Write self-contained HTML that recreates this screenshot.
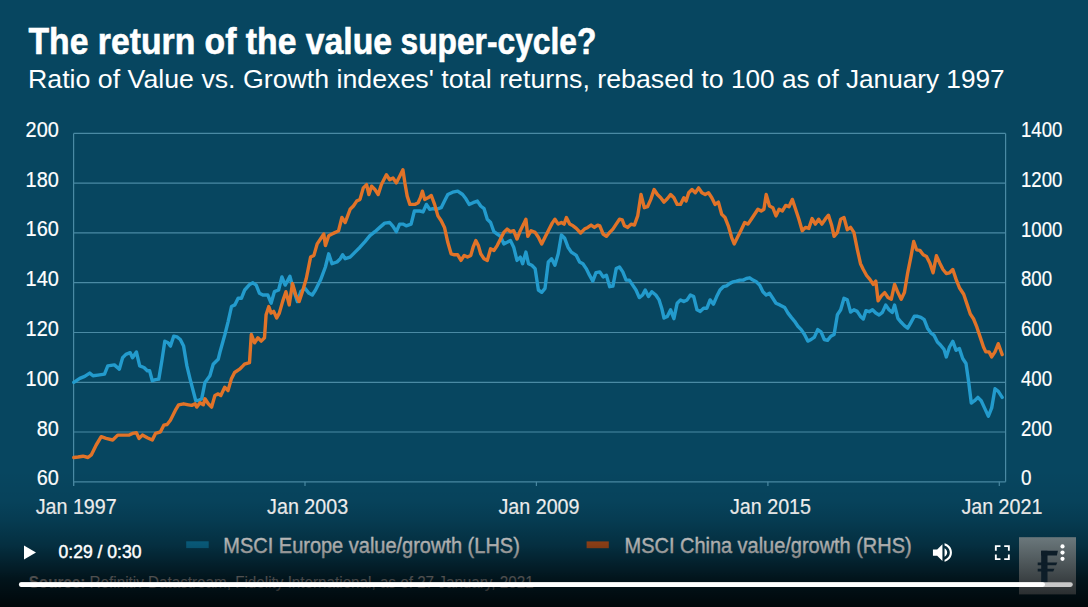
<!DOCTYPE html>
<html><head><meta charset="utf-8"><title>The return of the value super-cycle?</title>
<style>
html,body{margin:0;padding:0;width:1088px;height:607px;overflow:hidden;background:#074660;}
svg{position:absolute;left:0;top:0;display:block;}
text{font-family:"Liberation Sans",sans-serif;}
</style></head><body>
<svg width="1088" height="607" viewBox="0 0 1088 607">
<defs>
<linearGradient id="shade" gradientUnits="userSpaceOnUse" x1="0" y1="470" x2="0" y2="607">
<stop offset="0" stop-color="#000" stop-opacity="0"/>
<stop offset="0.22" stop-color="#000" stop-opacity="0.05"/>
<stop offset="0.365" stop-color="#000" stop-opacity="0.15"/>
<stop offset="0.547" stop-color="#000" stop-opacity="0.33"/>
<stop offset="0.657" stop-color="#000" stop-opacity="0.5"/>
<stop offset="0.8" stop-color="#000" stop-opacity="0.72"/>
<stop offset="1" stop-color="#000" stop-opacity="0.9"/>
</linearGradient>
<linearGradient id="logo" x1="0" y1="0" x2="0" y2="1">
<stop offset="0" stop-color="#6b787c"/>
<stop offset="1" stop-color="#2a2e30"/>
</linearGradient>
</defs>
<rect width="1088" height="607" fill="#074660"/>
<g fill="#fff">
<text x="28.5" y="54" font-size="37" font-weight="bold" stroke="#fff" stroke-width="0.6" textLength="363.5" lengthAdjust="spacingAndGlyphs">The return of the value</text>
<text x="400.5" y="54" font-size="37" font-weight="bold" stroke="#fff" stroke-width="0.6" textLength="195.8" lengthAdjust="spacingAndGlyphs">super-cycle?</text>
<text x="28" y="87.6" font-size="25.2" textLength="695.6" lengthAdjust="spacingAndGlyphs">Ratio of Value vs. Growth indexes&#39; total returns, rebased to</text>
<text x="731" y="87.6" font-size="25.2" textLength="273.6" lengthAdjust="spacingAndGlyphs">100 as of January 1997</text>
</g>
<g stroke="#4a8aa4" stroke-width="1.2" fill="none">
<line x1="73.6" y1="133.4" x2="1005.6" y2="133.4"/><line x1="73.6" y1="183.2" x2="1005.6" y2="183.2"/><line x1="73.6" y1="232.9" x2="1005.6" y2="232.9"/><line x1="73.6" y1="282.7" x2="1005.6" y2="282.7"/><line x1="73.6" y1="332.5" x2="1005.6" y2="332.5"/><line x1="73.6" y1="382.3" x2="1005.6" y2="382.3"/><line x1="73.6" y1="432.0" x2="1005.6" y2="432.0"/>
<line x1="73.6" y1="481.8" x2="1005.6" y2="481.8"/>
<line x1="73.6" y1="133.4" x2="73.6" y2="486"/>
<line x1="1005.6" y1="133.4" x2="1005.6" y2="481.8"/>
<line x1="73.6" y1="481.8" x2="73.6" y2="486"/><line x1="305.0" y1="481.8" x2="305.0" y2="486"/><line x1="536.4" y1="481.8" x2="536.4" y2="486"/><line x1="767.9" y1="481.8" x2="767.9" y2="486"/><line x1="999.3" y1="481.8" x2="999.3" y2="486"/>
</g>
<g fill="#fff" font-size="21.5" stroke="#fff" stroke-width="0.2">
<text x="58.8" y="136.9" text-anchor="end" textLength="33.2" lengthAdjust="spacingAndGlyphs">200</text><text x="58.8" y="186.7" text-anchor="end" textLength="33.2" lengthAdjust="spacingAndGlyphs">180</text><text x="58.8" y="236.4" text-anchor="end" textLength="33.2" lengthAdjust="spacingAndGlyphs">160</text><text x="58.8" y="286.2" text-anchor="end" textLength="33.2" lengthAdjust="spacingAndGlyphs">140</text><text x="58.8" y="336.0" text-anchor="end" textLength="33.2" lengthAdjust="spacingAndGlyphs">120</text><text x="58.8" y="385.8" text-anchor="end" textLength="33.2" lengthAdjust="spacingAndGlyphs">100</text><text x="58.8" y="435.5" text-anchor="end" textLength="22.1" lengthAdjust="spacingAndGlyphs">80</text><text x="58.8" y="485.3" text-anchor="end" textLength="22.1" lengthAdjust="spacingAndGlyphs">60</text>
<text x="1021" y="137.0" textLength="41.4" lengthAdjust="spacingAndGlyphs">1400</text><text x="1021" y="186.8" textLength="41.4" lengthAdjust="spacingAndGlyphs">1200</text><text x="1021" y="236.5" textLength="41.4" lengthAdjust="spacingAndGlyphs">1000</text><text x="1021" y="286.3" textLength="31.1" lengthAdjust="spacingAndGlyphs">800</text><text x="1021" y="336.1" textLength="31.1" lengthAdjust="spacingAndGlyphs">600</text><text x="1021" y="385.9" textLength="31.1" lengthAdjust="spacingAndGlyphs">400</text><text x="1021" y="435.6" textLength="31.1" lengthAdjust="spacingAndGlyphs">200</text><text x="1021" y="485.4" textLength="10.5" lengthAdjust="spacingAndGlyphs">0</text>
</g>
<g fill="#fff" font-size="21.8" stroke="#fff" stroke-width="0.2">
<text x="76.2" y="513.7" text-anchor="middle" textLength="81" lengthAdjust="spacingAndGlyphs">Jan 1997</text><text x="307.6" y="513.7" text-anchor="middle" textLength="81" lengthAdjust="spacingAndGlyphs">Jan 2003</text><text x="539.0" y="513.7" text-anchor="middle" textLength="81" lengthAdjust="spacingAndGlyphs">Jan 2009</text><text x="770.5" y="513.7" text-anchor="middle" textLength="81" lengthAdjust="spacingAndGlyphs">Jan 2015</text><text x="1001.9" y="513.7" text-anchor="middle" textLength="81" lengthAdjust="spacingAndGlyphs">Jan 2021</text>
</g>
<polyline points="73.8,382.4 79.8,378.4 84.7,376.4 89.7,373.1 93.0,375.8 97.9,375.1 104.5,374.1 107.8,365.9 114.4,364.9 119.3,369.2 122.6,357.7 125.9,354.4 130.2,352.7 132.5,357.7 136.4,352.0 139.7,365.9 144.0,367.5 147.3,370.8 149.6,370.8 152.3,380.7 155.5,379.7 158.8,379.1 162.1,359.3 164.8,341.2 168.0,342.8 170.4,346.1 173.7,336.2 177.0,336.9 180.3,339.5 183.6,346.1 186.9,365.9 190.1,379.1 195.7,400.5 198.4,400.5 201.7,398.8 205.0,382.4 209.9,375.8 213.2,364.3 218.2,359.3 220.0,352.0 224.9,334.5 228.2,321.3 231.5,306.5 234.8,304.9 238.1,298.3 241.4,298.3 244.7,290.0 249.7,284.4 252.9,282.8 256.2,285.1 259.5,293.3 262.8,295.0 267.8,295.0 271.1,303.2 274.4,291.7 278.6,290.0 281.9,276.9 285.2,285.1 289.9,276.2 293.1,288.4 297.4,301.6 300.7,291.7 305.0,288.4 309.0,293.3 312.3,295.0 315.5,290.0 320.5,280.1 325.4,267.0 328.7,253.8 332.0,263.7 337.0,262.0 340.3,258.7 342.6,254.8 345.2,258.7 350.1,257.1 355.1,252.1 360.0,247.2 365.0,241.6 369.9,235.7 374.9,231.7 379.8,227.4 384.7,223.1 389.7,222.5 393.0,226.4 396.3,231.7 399.6,224.1 402.9,224.1 406.2,225.8 411.1,224.1 414.4,211.0 419.8,211.0 423.1,211.9 426.4,204.4 429.7,209.3 432.9,208.6 436.2,209.3 441.2,207.7 444.5,201.1 447.8,194.5 452.7,192.2 457.7,191.2 462.6,194.5 465.9,198.8 469.2,204.4 473.1,202.7 477.4,201.1 480.7,206.0 484.0,208.6 487.3,219.2 490.6,222.5 493.9,231.7 497.2,234.0 500.5,236.3 503.8,243.9 507.1,242.3 510.4,240.6 513.7,247.2 517.0,260.4 520.3,257.1 522.6,263.7 525.9,252.1 528.5,263.7 531.8,265.3 535.1,268.6 538.4,290.0 541.7,292.3 545.0,288.4 548.3,262.0 551.6,258.7 554.9,265.3 558.2,253.8 561.4,235.0 564.7,238.3 568.0,247.2 571.3,252.1 576.3,255.4 579.6,262.0 582.9,263.7 586.2,268.6 589.5,275.2 592.8,281.1 596.0,272.6 599.8,271.9 603.1,276.9 606.4,275.2 609.7,286.7 612.9,286.1 616.2,268.6 619.5,267.0 622.8,271.9 626.1,280.1 629.4,280.1 632.7,285.1 636.0,290.0 639.3,297.6 642.6,295.0 645.2,290.0 648.5,296.6 651.8,291.7 655.8,295.0 659.1,299.9 661.7,308.2 664.0,318.0 667.3,316.4 670.6,309.8 673.9,318.7 677.2,303.2 680.5,299.9 683.8,301.6 687.1,299.9 690.4,295.0 693.7,296.6 697.0,309.8 700.3,311.4 703.6,308.2 706.9,308.2 710.1,299.9 713.4,304.2 716.7,296.6 720.0,290.0 723.3,286.7 726.6,285.8 729.9,283.4 733.2,281.8 736.5,281.1 739.8,280.1 743.1,280.1 746.4,278.5 749.7,277.8 753.0,280.1 756.3,281.8 759.6,285.1 762.9,291.7 766.2,295.0 769.5,293.3 772.8,298.3 776.0,303.2 779.8,304.9 784.7,307.5 788.0,313.1 791.3,317.4 794.6,321.3 797.9,326.3 801.2,329.6 804.5,334.5 807.8,341.1 811.1,339.5 814.4,337.1 817.7,329.6 821.0,331.9 824.3,339.5 827.5,340.4 830.8,336.2 834.1,334.5 837.4,314.7 840.7,309.8 844.0,298.3 847.3,299.9 850.6,312.1 853.9,309.8 857.2,311.4 860.5,316.4 863.3,319.0 865.9,310.7 869.2,311.7 872.5,309.7 875.8,313.0 879.1,315.0 882.4,312.4 885.7,305.1 889.0,309.7 892.3,312.4 894.6,305.1 897.9,318.3 901.2,322.3 904.4,325.6 907.7,328.2 911.0,322.3 914.3,316.3 917.6,316.3 920.9,317.3 924.2,319.6 927.5,328.2 930.8,332.8 934.1,335.4 937.4,342.0 940.7,345.3 944.0,349.3 946.3,356.9 949.5,347.0 952.8,341.4 956.1,350.3 959.4,348.6 962.7,358.5 966.0,363.5 968.6,381.6 971.3,403.0 974.6,400.7 977.9,397.4 981.2,400.7 984.5,407.9 988.4,416.2 991.7,407.9 995.0,388.8 998.3,391.4 1002.2,397.4" fill="none" stroke="#239bcd" stroke-width="3.4" stroke-linejoin="round" stroke-linecap="round"/>
<polyline points="73.8,457.5 78.0,457.0 83.0,456.2 88.0,457.5 91.3,454.9 96.2,445.0 101.2,436.7 106.1,438.4 112.7,440.0 117.7,435.1 124.2,435.1 129.2,435.1 132.5,433.4 136.4,432.8 139.1,438.4 142.4,435.1 147.3,437.7 152.3,440.0 155.5,433.4 160.5,431.8 163.8,425.2 167.1,424.5 170.4,420.3 175.3,410.4 178.6,404.8 183.6,403.8 188.5,404.8 191.8,405.4 195.1,403.8 196.7,407.1 200.0,402.8 203.3,404.8 205.0,398.8 208.3,403.8 211.6,407.1 214.9,395.5 218.2,393.9 220.8,395.5 224.7,387.3 228.0,390.6 231.3,379.1 234.6,372.5 239.6,369.2 242.9,365.9 244.5,364.2 249.5,362.6 251.3,334.5 254.6,342.8 257.9,337.8 261.2,341.1 264.5,337.8 266.1,314.7 268.8,306.5 271.1,313.1 273.7,311.4 276.7,318.0 279.3,313.1 282.6,301.6 285.9,291.7 289.2,304.9 292.5,283.4 295.8,295.0 299.1,301.6 302.4,291.7 306.3,278.5 310.6,257.1 313.9,255.4 317.2,243.9 320.5,239.0 323.8,234.0 325.4,245.6 328.7,235.7 332.0,234.0 335.3,232.4 338.6,230.7 341.9,217.5 345.2,222.5 350.1,209.3 353.4,206.0 356.7,201.1 360.0,199.4 363.3,187.9 366.6,184.6 368.9,194.5 371.6,186.2 374.9,189.5 378.2,194.5 381.4,184.6 386.4,174.7 389.7,179.7 393.0,178.0 396.3,182.9 399.6,176.4 402.9,169.8 404.9,183.0 407.2,196.1 409.9,204.4 414.8,204.4 418.1,202.7 420.4,197.8 422.4,191.2 424.7,199.4 428.0,197.8 431.3,195.5 434.6,204.4 437.9,215.9 441.2,220.8 444.5,227.4 447.8,242.3 451.1,253.8 454.4,254.8 457.7,254.8 461.0,260.4 464.2,255.4 467.5,257.1 470.8,255.4 473.1,247.2 475.8,240.6 478.4,245.6 480.7,253.8 484.0,258.7 487.3,260.4 490.6,248.8 493.9,250.5 497.2,245.6 500.5,239.0 503.8,232.4 507.1,229.1 510.4,231.7 513.7,230.7 517.0,239.0 520.3,230.7 523.6,224.1 525.9,219.2 527.8,236.3 531.1,230.7 535.1,232.4 538.4,237.3 541.7,243.9 545.0,237.3 548.3,230.7 552.2,223.1 554.9,219.2 558.2,224.1 561.4,222.5 564.1,224.1 566.4,217.5 569.7,224.1 573.0,225.8 576.3,228.4 580.6,233.0 584.5,229.1 587.8,227.4 591.1,225.1 594.4,227.4 597.7,225.1 599.8,225.8 603.1,234.0 606.4,236.3 609.7,232.4 612.9,229.1 616.2,224.1 619.5,219.2 622.2,219.9 624.5,225.8 627.8,227.4 631.1,224.1 634.4,225.1 637.7,215.9 641.0,194.5 644.3,207.7 647.5,206.7 650.8,199.4 654.1,189.5 657.4,194.5 660.7,197.8 664.0,202.1 667.3,198.8 670.6,194.5 673.9,197.8 677.2,204.4 680.5,204.4 683.8,197.8 686.1,201.1 688.7,192.8 692.0,189.5 695.3,192.8 698.6,187.9 701.9,192.8 705.2,194.5 708.5,192.8 711.8,197.8 715.1,204.4 718.4,202.1 721.7,214.3 725.0,217.5 728.3,225.8 731.6,237.3 734.2,243.9 737.5,237.3 740.8,230.7 744.7,222.5 748.0,224.1 751.3,219.2 754.6,214.3 757.9,209.3 761.2,211.0 763.9,209.3 766.2,194.5 769.5,206.0 772.8,207.7 776.0,215.9 779.1,209.3 782.4,211.0 785.7,205.4 789.0,206.7 792.3,199.4 795.6,209.3 798.9,219.2 802.2,230.7 805.5,227.4 808.8,228.4 812.1,218.5 815.4,224.1 818.6,219.2 821.9,224.1 825.2,219.2 828.5,215.2 831.8,225.8 834.1,236.3 837.4,232.4 840.7,219.2 844.0,217.5 847.3,229.7 850.6,227.4 853.9,232.4 857.2,248.8 860.5,263.7 863.3,269.5 866.6,275.5 869.9,279.4 873.2,284.4 875.8,281.1 878.1,300.8 881.4,295.9 884.7,292.6 888.0,297.5 891.3,299.2 894.6,284.4 897.9,292.6 901.2,299.2 904.4,292.6 907.7,272.8 911.0,256.4 913.7,241.5 916.6,249.8 919.9,250.4 923.2,254.7 926.5,256.4 929.8,262.9 933.1,272.8 936.4,255.7 939.7,262.9 943.0,269.5 946.3,273.5 949.5,272.8 952.8,269.5 956.1,279.4 959.4,287.7 963.7,294.3 967.0,304.1 970.3,314.0 973.6,319.0 976.9,327.2 980.2,337.1 983.5,347.0 985.8,351.9 989.1,351.9 991.7,356.9 995.0,351.9 998.3,343.7 1002.2,354.6" fill="none" stroke="#e17328" stroke-width="3.4" stroke-linejoin="round" stroke-linecap="round"/>
<rect x="186.2" y="541.3" width="22.5" height="6.8" fill="#0c80ad"/>
<text x="223.3" y="552.6" font-size="21.8" fill="#fff" stroke="#fff" stroke-width="0.35" textLength="296.5" lengthAdjust="spacingAndGlyphs">MSCI Europe value/growth (LHS)</text>
<rect x="586.6" y="541.4" width="22.2" height="6.8" fill="#c85a20"/>
<text x="624.6" y="552.6" font-size="21.8" fill="#fff" stroke="#fff" stroke-width="0.35" textLength="287" lengthAdjust="spacingAndGlyphs">MSCI China value/growth (RHS)</text>
<text x="28.7" y="587.8" font-size="16" fill="#fff" textLength="505" lengthAdjust="spacingAndGlyphs"><tspan font-weight="bold">Source:</tspan> Refinitiv Datastream, Fidelity International, as of 27 January, 2021</text>
<rect x="0" y="470" width="1088" height="137" fill="url(#shade)"/>
<!-- controls -->
<path d="M24 545.5 L36 552.5 L24 559.5 Z" fill="#fff"/>
<text x="58.5" y="558" font-size="17.5" fill="#fff" stroke="#fff" stroke-width="0.45" textLength="83" lengthAdjust="spacingAndGlyphs">0:29 / 0:30</text>
<path transform="translate(924.5 533.6) scale(1.055)" fill="#fff" d="M8,21 L12,21 L17,26 L17,10 L12,15 L8,15 L8,21 Z M19,14 L19,22 C20.48,21.32 21.5,19.77 21.5,18 C21.5,16.26 20.48,14.74 19,14 Z M19,11.29 C21.89,12.15 24,14.83 24,18 C24,21.17 21.89,23.85 19,24.71 L19,26.77 C23.01,25.86 26,22.28 26,18 C26,13.72 23.01,10.14 19,9.23 L19,11.29 Z"/>
<path transform="translate(985.6 535.9) scale(0.93)" fill="#fff" d="m10,16 2,0 0,-4 4,0 0,-2 L10,10 l0,6 z m10,-6 0,2 4,0 0,4 2,0 L26,10 z m4,14 -4,0 0,2 L26,26 l0,-6 -2,0 0,4 z M12,20 10,20 10,26 l6,0 0,-2 -4,0 0,-4 z"/>
<rect x="1019" y="537.2" width="57" height="57.2" fill="url(#logo)"/>
<g fill="#0d1d28">
<rect x="1041.2" y="550.8" width="6.3" height="32"/>
<path d="M1041.2 550.8 h16.7 l-1 4.8 h-15.7 z"/>
<path d="M1037.7 562.5 h19.6 l-1.2 2.8 h-18.4 z"/>
<path d="M1037.7 568.7 h16.7 l-1.2 2.8 h-15.5 z"/>
</g>
<g fill="#fff">
<circle cx="1062.5" cy="546.4" r="2.1"/>
<circle cx="1062.5" cy="552.6" r="2.1"/>
<circle cx="1062.5" cy="558.8" r="2.1"/>
</g>
<rect x="19" y="582.3" width="1053.8" height="4.6" rx="2.3" fill="#c8c8c8"/>
<rect x="19" y="582.3" width="1026" height="4.6" rx="2.3" fill="#fff"/>
</svg>
</body></html>
